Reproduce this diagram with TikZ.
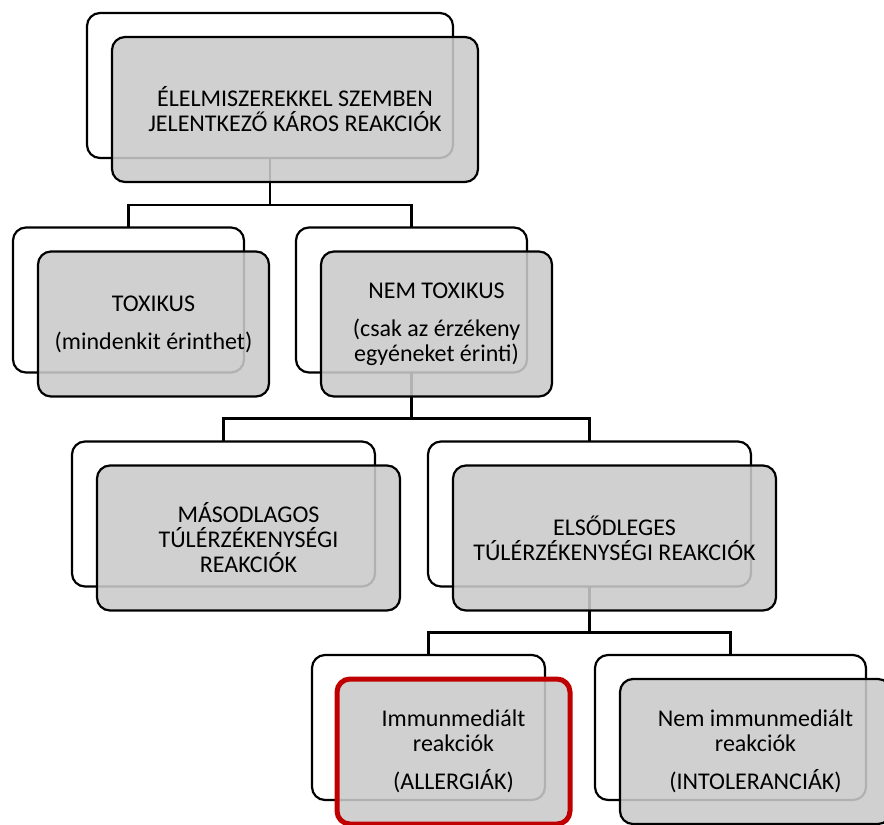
\documentclass[tikz,border=0pt]{standalone}
\usepackage{fontspec}
\setmainfont{Carlito}
\usepackage{tikz}
\definecolor{szurke}{RGB}{202,202,202}
\definecolor{piros}{RGB}{192,0,0}
\tikzset{
  hatsodoboz/.style={draw=black, line width=2.2pt, rounded corners=13pt, fill=white,
    minimum height=145pt, inner sep=0pt, outer sep=0pt},
  elsodoboz/.style={draw=black, line width=2.2pt, rounded corners=13pt, fill=szurke,
    fill opacity=0.88, text opacity=1, minimum height=145pt, align=center,
    inner sep=0pt, outer sep=0pt, font=\fontsize{24}{25}\selectfont},
  vonal/.style={draw=black, line width=2.2pt},
}

\begin{document}
\begin{tikzpicture}[x=1pt,y=1pt]
\useasboundingbox (0,0) rectangle (884,-825);
% hátsó keretek
\node[hatsodoboz, minimum width=366pt] (tetoH) at (270,-85.5) {};
\node[hatsodoboz, minimum width=231pt] (toxH) at (128.5,-300) {};
\node[hatsodoboz, minimum width=231pt] (nemtoxH) at (411.5,-300) {};
\node[hatsodoboz, minimum width=303pt] (masodH) at (223.5,-514) {};
\node[hatsodoboz, minimum width=323pt] (elsodH) at (589.5,-514) {};
\node[hatsodoboz, minimum width=233pt] (immunH) at (428.5,-727.5) {};
\node[hatsodoboz, minimum width=271pt] (nemimmH) at (730.5,-727.5) {};

% összekötő vonalak
\draw[vonal] (tetoH.south) -- ++(0,-47) -| (toxH.north);
\draw[vonal] (tetoH.south) -- ++(0,-47) -| (nemtoxH.north);
\draw[vonal] (nemtoxH.south) -- ++(0,-46) -| (masodH.north);
\draw[vonal] (nemtoxH.south) -- ++(0,-46) -| (elsodH.north);
\draw[vonal] (elsodH.south) -- ++(0,-46) -| (immunH.north);
\draw[vonal] (elsodH.south) -- ++(0,-46) -| (nemimmH.north);

% szürke dobozok szöveggel
\node[elsodoboz, minimum width=366pt] (teto) at (295,-109.5) {ÉLELMISZEREKKEL SZEMBEN\\JELENTKEZŐ KÁROS REAKCIÓK};
\node[elsodoboz, minimum width=231pt] (tox) at (153.5,-324) {TOXIKUS\\[13pt](mindenkit érinthet)};
\node[elsodoboz, minimum width=231pt] (nemtox) at (436.5,-324) {NEM TOXIKUS\\[13pt](csak az érzékeny\\egyéneket érinti)};
\node[elsodoboz, minimum width=303pt] (masod) at (248.5,-538) {MÁSODLAGOS\\TÚLÉRZÉKENYSÉGI\\REAKCIÓK};
\node[elsodoboz, minimum width=323pt] (elsod) at (614.5,-538) {ELSŐDLEGES\\TÚLÉRZÉKENYSÉGI REAKCIÓK};
\node[elsodoboz, minimum width=233pt, draw=piros, line width=5pt] (immun) at (453.5,-751.5) {Immunmediált\\reakciók\\[13pt](ALLERGIÁK)};
\node[elsodoboz, minimum width=271pt] (nemimm) at (755.5,-751.5) {Nem immunmediált\\reakciók\\[13pt](INTOLERANCIÁK)};
\end{tikzpicture}
\end{document}
